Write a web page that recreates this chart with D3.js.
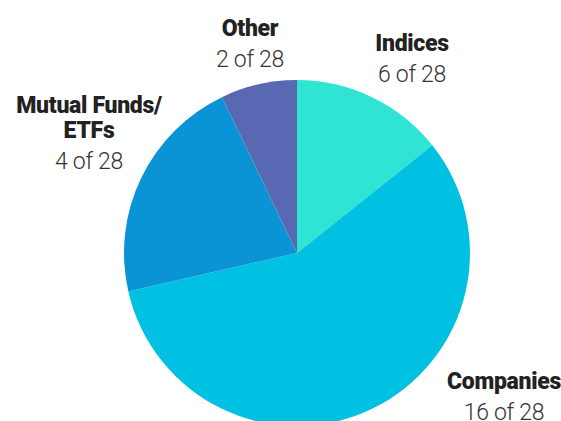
<!DOCTYPE html>
<html>
<head>
<meta charset="utf-8">
<script src="https://cdn.jsdelivr.net/npm/d3@7"></script>
<style>
  body { margin: 0; background: #fff; }
  .name { font-family: Roboto, sans-serif; font-weight: 900; fill: #222; }
  .count { font-family: Roboto, sans-serif; font-weight: 300; fill: #333; }
</style>
</head>
<body>
<div id="chart"></div>
<script>
// labels as printed
const categories = ['Indices', 'Companies', 'Mutual Funds/ETFs', 'Other'];
const counts = [6, 16, 4, 2];
const total = 28;
// slice sizes as they are drawn in the picture
const sliceValues = [4, 16, 6, 2];
const colors = ['#30e4d4', '#00c1e1', '#0a94d5', '#5968b3'];

const width = 561, height = 421;
const cx = 297, cy = 253, radius = 173;

// label anchors (centre x, first baseline y) and line breaks
const labelPos = {
    'Indices': { x: 412, y: 51, lines: ['Indices'] },
    'Companies': { x: 504, y: 389, lines: ['Companies'] },
    'Mutual Funds/ETFs': { x: 89, y: 113, lines: ['Mutual Funds/', 'ETFs'] },
    'Other': { x: 250, y: 36, lines: ['Other'] }
};

const svg = d3.select('#chart').append('svg')
    .attr('width', width)
    .attr('height', height);

const pie = d3.pie().sort(null).value(d => d.value);
const arc = d3.arc().innerRadius(0).outerRadius(radius);

const data = categories.map((c, i) => ({ name: c, value: sliceValues[i], count: counts[i], color: colors[i] }));

svg.append('g')
    .attr('transform', 'translate(' + cx + ',' + cy + ')')
    .selectAll('path').data(pie(data))
    .enter()
    .append('path')
    .attr('d', arc)
    .attr('fill', d => d.data.color);

const labels = svg.append('g')
    .selectAll('g').data(data)
    .enter()
    .append('g');

labels.each(function(d) {
    const p = labelPos[d.name];
    const g = d3.select(this);
    p.lines.forEach((line, j) => {
        g.append('text')
            .attr('class', 'name')
            .attr('x', p.x)
            .attr('y', p.y + j * 25)
            .attr('text-anchor', 'middle')
            .style('font-size', '23px')
            .style('letter-spacing', '-0.3px')
            .text(line);
    });
    g.append('text')
        .attr('class', 'count')
        .attr('x', p.x)
        .attr('y', p.y + (p.lines.length - 1) * 25 + 31)
        .attr('text-anchor', 'middle')
        .style('font-size', '23px')
        .style('letter-spacing', '-0.3px')
        .text(d.count + ' of ' + total);
});
</script>
</body>
</html>
